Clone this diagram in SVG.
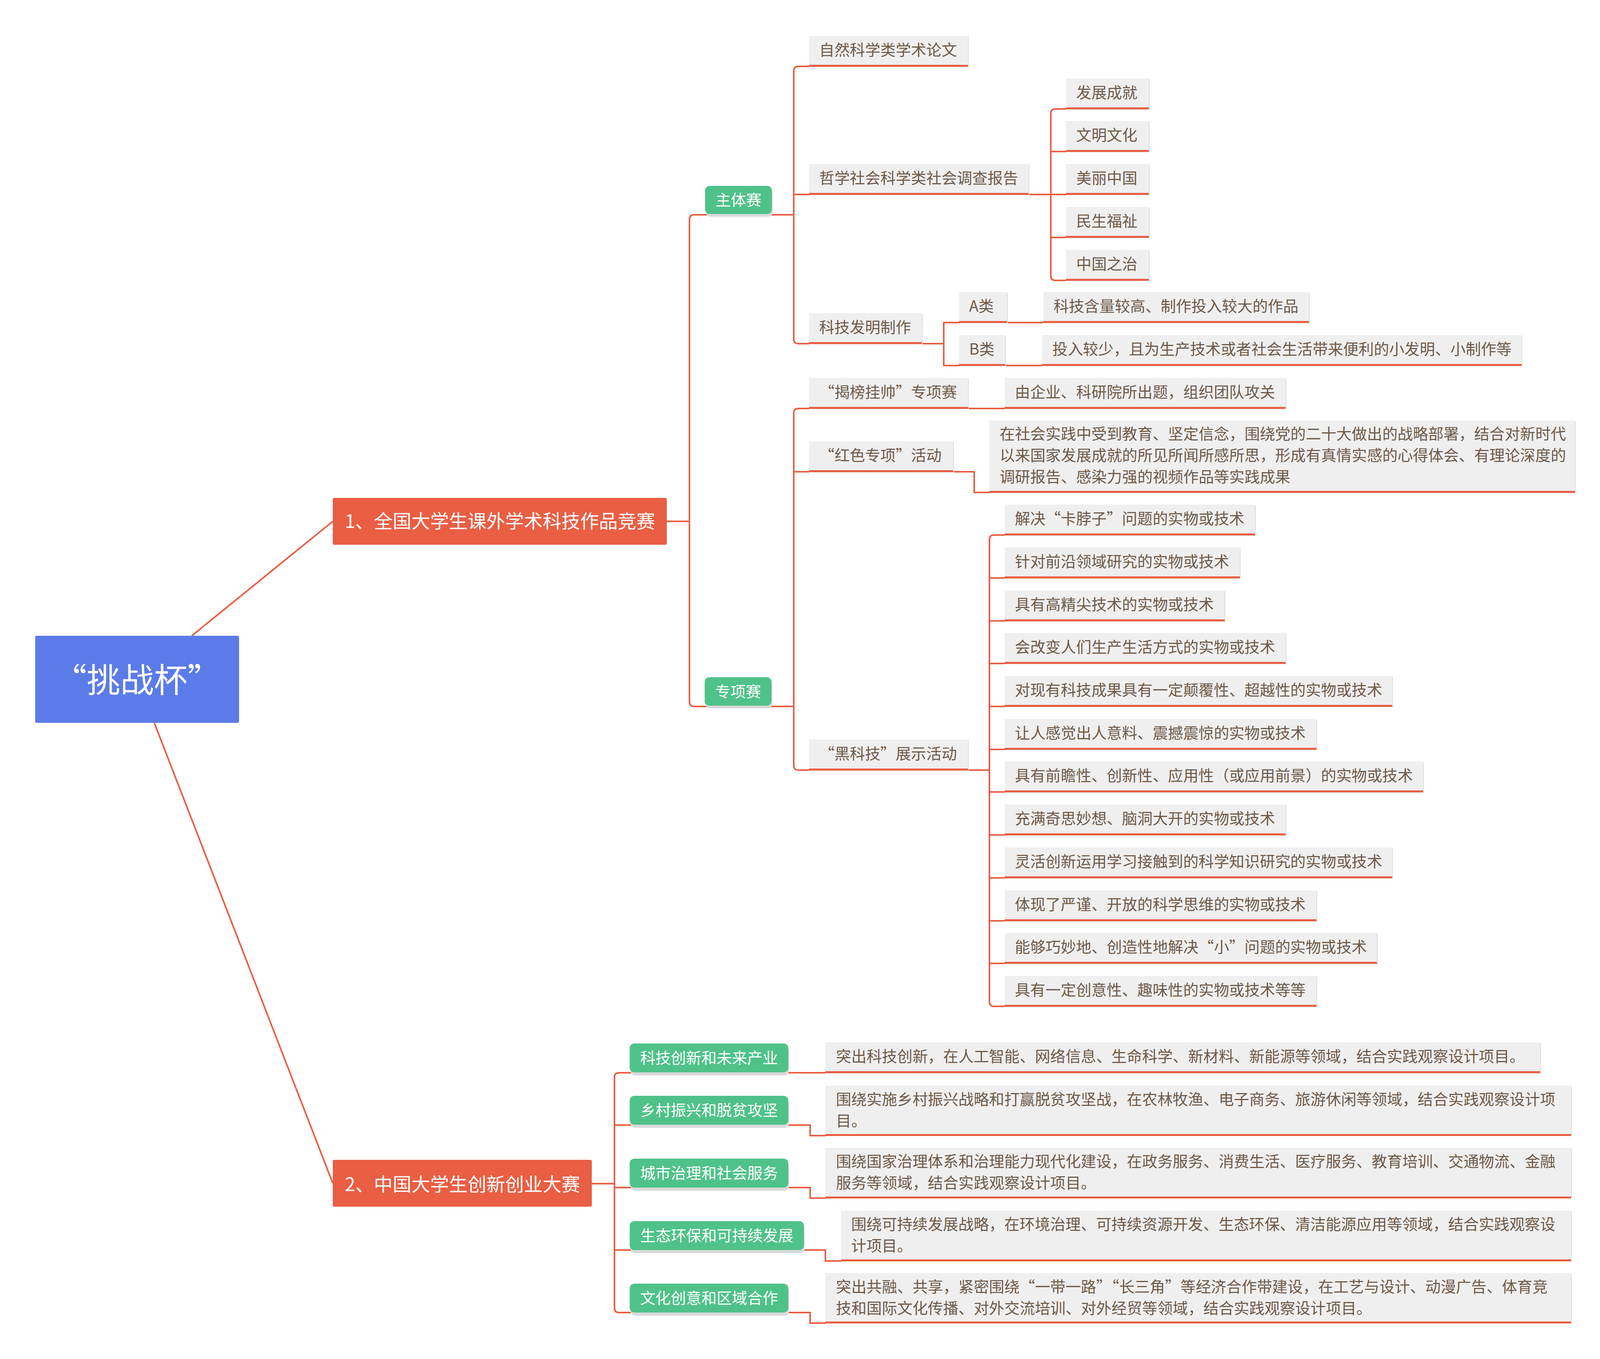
<svg xmlns="http://www.w3.org/2000/svg" width="4120" height="3480" viewBox="0 0 4120 3480">
<style>
.t{font-family:"Noto Sans CJK SC","Noto Sans CJK TC","Liberation Sans",sans-serif;}
.tx{font-size:39.2px;fill:#6e5a48;}
.gt{font-size:39.2px;fill:#ffffff;text-anchor:middle;}
.bx{fill:#efefef;}
.sh{fill:#dddddd;}
.ul{fill:#e95d40;}
.c{fill:none;stroke:#e95d40;stroke-width:4;}
.g{fill:#4fc289;}
.gs{fill:#dadada;}
.red{fill:#ea5e43;}
</style>
<rect x="0" y="0" width="4120" height="3480" fill="#ffffff"/>
<g id="connectors">
<path class="c" d="M 491 1628 L 852 1335"/>
<path class="c" d="M 395 1851 L 852 3030"/>
<path class="c" d="M 1707 1335 H 1765"/>
<path class="c" d="M 2032 550 H 1777 Q 1765 550 1765 562 V 1797 Q 1765 1809 1777 1809 H 2032"/>
<path class="c" d="M 2071 170 H 2044 Q 2032 170 2032 182 V 868 Q 2032 880 2044 880 H 2071"/>
<path class="c" d="M 2032 498 H 2729"/>
<path class="c" d="M 2729 279 H 2702 Q 2690 279 2690 291 V 706 Q 2690 718 2702 718 H 2729"/>
<path class="c" d="M 2690 388 H 2729 M 2690 608 H 2729"/>
<path class="c" d="M 2360 880 H 2416"/>
<path class="c" d="M 2671 826 H 2416 V 936 H 2668"/>
<path class="c" d="M 2071 1046 H 2044 Q 2032 1046 2032 1058 V 1960 Q 2032 1972 2044 1972 H 2071"/>
<path class="c" d="M 2032 1208 H 2071"/>
<path class="c" d="M 2478 1046 H 2572"/>
<path class="c" d="M 2440 1208 H 2494 V 1261 H 2533"/>
<path class="c" d="M 2478 1972 H 2533"/>
<path class="c" d="M 2572 1370 H 2545 Q 2533 1370 2533 1382 V 2565 Q 2533 2577 2545 2577 H 2572"/>
<path class="c" d="M 2533 1480 H 2572 M 2533 1590 H 2572 M 2533 1699 H 2572 M 2533 1809 H 2572 M 2533 1919 H 2572 M 2533 2028 H 2572 M 2533 2138 H 2572 M 2533 2248 H 2572 M 2533 2358 H 2572 M 2533 2467 H 2572"/>
<path class="c" d="M 1515 3031 H 1573"/>
<path class="c" d="M 2113 2747 H 1585 Q 1573 2747 1573 2759 V 3349 Q 1573 3361 1585 3361 H 2074 V 3388 H 2113"/>
<path class="c" d="M 1573 2881 H 2074 V 2908 H 2113"/>
<path class="c" d="M 1573 3041 H 2074 V 3068 H 2113"/>
<path class="c" d="M 1573 3201 H 2113 V 3229 H 2153"/>
</g>

<g id="root">
<rect x="90" y="1628" width="522" height="223" rx="4" fill="#5b7be8"/>
<text class="t" x="351" y="1773" font-size="86" fill="#ffffff" text-anchor="middle">“挑战杯”</text>
</g>

<g id="n1">
<rect class="red" x="852" y="1275" width="855" height="120" rx="4"/>
<text class="t" x="1280" y="1352" font-size="48" fill="#ffffff" text-anchor="middle">1、全国大学生课外学术科技作品竞赛</text>
</g>
<g id="n2">
<rect class="red" x="852" y="2970" width="663" height="120" rx="4"/>
<text class="t" x="1184" y="3050" font-size="48" fill="#ffffff" text-anchor="middle">2、中国大学生创新创业大赛</text>
</g>

<g id="zhuti">
<rect class="gs" x="1807" y="483" width="171" height="72" rx="12"/>
<rect class="g" x="1805" y="476" width="171" height="72" rx="12"/>
<text class="t gt" x="1890.5" y="526">主体赛</text>
</g>
<g id="zhuanxiang">
<rect class="gs" x="1806" y="1741" width="171" height="73" rx="12"/>
<rect class="g" x="1804" y="1734" width="171" height="73" rx="12"/>
<text class="t gt" x="1889.5" y="1785">专项赛</text>
</g>

<g id="ziran">
<rect class="sh" x="2073" y="94" width="407" height="78"/>
<rect class="bx" x="2071" y="92" width="407" height="78"/>
<rect class="ul" x="2071" y="166" width="407" height="5"/>
<text class="t tx" x="2097" y="142">自然科学类学术论文</text>
</g>
<g id="zhexue">
<rect class="sh" x="2073" y="422" width="562" height="78"/>
<rect class="bx" x="2071" y="420" width="562" height="78"/>
<rect class="ul" x="2071" y="494" width="562" height="5"/>
<text class="t tx" x="2097" y="470">哲学社会科学类社会调查报告</text>
</g>
<g id="fazhan">
<rect class="sh" x="2731" y="203" width="212" height="78"/>
<rect class="bx" x="2729" y="201" width="212" height="78"/>
<rect class="ul" x="2729" y="275" width="212" height="5"/>
<text class="t tx" x="2755" y="251">发展成就</text>
</g>
<g id="wenming">
<rect class="sh" x="2731" y="312" width="212" height="78"/>
<rect class="bx" x="2729" y="310" width="212" height="78"/>
<rect class="ul" x="2729" y="384" width="212" height="5"/>
<text class="t tx" x="2755" y="360">文明文化</text>
</g>
<g id="meili">
<rect class="sh" x="2731" y="422" width="212" height="78"/>
<rect class="bx" x="2729" y="420" width="212" height="78"/>
<rect class="ul" x="2729" y="494" width="212" height="5"/>
<text class="t tx" x="2755" y="470">美丽中国</text>
</g>
<g id="minsheng">
<rect class="sh" x="2731" y="532" width="212" height="78"/>
<rect class="bx" x="2729" y="530" width="212" height="78"/>
<rect class="ul" x="2729" y="604" width="212" height="5"/>
<text class="t tx" x="2755" y="580">民生福祉</text>
</g>
<g id="zhongguo">
<rect class="sh" x="2731" y="642" width="212" height="78"/>
<rect class="bx" x="2729" y="640" width="212" height="78"/>
<rect class="ul" x="2729" y="714" width="212" height="5"/>
<text class="t tx" x="2755" y="690">中国之治</text>
</g>
<g id="faming">
<rect class="sh" x="2073" y="804" width="289" height="78"/>
<rect class="bx" x="2071" y="802" width="289" height="78"/>
<rect class="ul" x="2071" y="876" width="289" height="5"/>
<text class="t tx" x="2097" y="852">科技发明制作</text>
</g>
<g id="alei">
<rect class="sh" x="2457" y="750" width="123" height="78"/>
<rect class="bx" x="2455" y="748" width="123" height="78"/>
<rect class="ul" x="2455" y="822" width="123" height="5"/>
<text class="t tx" x="2481" y="798">A类</text>
</g>
<g id="alei-d">
<rect class="sh" x="2673" y="750" width="680" height="78"/>
<rect class="bx" x="2671" y="748" width="680" height="78"/>
<rect class="ul" x="2671" y="822" width="680" height="5"/>
<text class="t tx" x="2697" y="798">科技含量较高、制作投入较大的作品</text>
</g>
<g id="blei">
<rect class="sh" x="2457" y="860" width="118" height="78"/>
<rect class="bx" x="2455" y="858" width="118" height="78"/>
<rect class="ul" x="2455" y="932" width="118" height="5"/>
<text class="t tx" x="2481" y="908">B类</text>
</g>
<g id="blei-d">
<rect class="sh" x="2670" y="860" width="1227" height="78"/>
<rect class="bx" x="2668" y="858" width="1227" height="78"/>
<rect class="ul" x="2668" y="932" width="1227" height="5"/>
<text class="t tx" x="2694" y="908">投入较少，且为生产技术或者社会生活带来便利的小发明、小制作等</text>
</g>

<g id="jiebang">
<rect class="sh" x="2073" y="970" width="407" height="78"/>
<rect class="bx" x="2071" y="968" width="407" height="78"/>
<rect class="ul" x="2071" y="1042" width="407" height="5"/>
<text class="t tx" x="2097" y="1018">“揭榜挂帅”专项赛</text>
</g>
<g id="jiebang-d">
<rect class="sh" x="2574" y="970" width="719" height="78"/>
<rect class="bx" x="2572" y="968" width="719" height="78"/>
<rect class="ul" x="2572" y="1042" width="719" height="5"/>
<text class="t tx" x="2598" y="1018">由企业、科研院所出题，组织团队攻关</text>
</g>
<g id="hongse">
<rect class="sh" x="2073" y="1132" width="369" height="78"/>
<rect class="bx" x="2071" y="1130" width="369" height="78"/>
<rect class="ul" x="2071" y="1204" width="369" height="5"/>
<text class="t tx" x="2097" y="1180">“红色专项”活动</text>
</g>
<g id="hongse-d">
<rect class="sh" x="2535" y="1079" width="1499" height="184"/>
<rect class="bx" x="2533" y="1077" width="1499" height="184"/>
<rect class="ul" x="2533" y="1257" width="1499" height="5"/>
<text class="t tx" x="2559" y="1125">在社会实践中受到教育、坚定信念，围绕党的二十大做出的战略部署，结合对新时代</text>
<text class="t tx" x="2559" y="1180">以来国家发展成就的所见所闻所感所思，形成有真情实感的心得体会、有理论深度的</text>
<text class="t tx" x="2559" y="1235">调研报告、感染力强的视频作品等实践成果</text>
</g>
<g id="heikeji">
<rect class="sh" x="2073" y="1896" width="407" height="78"/>
<rect class="bx" x="2071" y="1894" width="407" height="78"/>
<rect class="ul" x="2071" y="1968" width="407" height="5"/>
<text class="t tx" x="2097" y="1944">“黑科技”展示活动</text>
</g>

<g id="h1">
<rect class="sh" x="2574" y="1294" width="641" height="78"/>
<rect class="bx" x="2572" y="1292" width="641" height="78"/>
<rect class="ul" x="2572" y="1366" width="641" height="5"/>
<text class="t tx" x="2598" y="1342">解决“卡脖子”问题的实物或技术</text>
</g>
<g id="h2">
<rect class="sh" x="2574" y="1404" width="602" height="78"/>
<rect class="bx" x="2572" y="1402" width="602" height="78"/>
<rect class="ul" x="2572" y="1476" width="602" height="5"/>
<text class="t tx" x="2598" y="1452">针对前沿领域研究的实物或技术</text>
</g>
<g id="h3">
<rect class="sh" x="2574" y="1514" width="563" height="78"/>
<rect class="bx" x="2572" y="1512" width="563" height="78"/>
<rect class="ul" x="2572" y="1586" width="563" height="5"/>
<text class="t tx" x="2598" y="1562">具有高精尖技术的实物或技术</text>
</g>
<g id="h4">
<rect class="sh" x="2574" y="1623" width="719" height="78"/>
<rect class="bx" x="2572" y="1621" width="719" height="78"/>
<rect class="ul" x="2572" y="1695" width="719" height="5"/>
<text class="t tx" x="2598" y="1671">会改变人们生产生活方式的实物或技术</text>
</g>
<g id="h5">
<rect class="sh" x="2574" y="1733" width="992" height="78"/>
<rect class="bx" x="2572" y="1731" width="992" height="78"/>
<rect class="ul" x="2572" y="1805" width="992" height="5"/>
<text class="t tx" x="2598" y="1781">对现有科技成果具有一定颠覆性、超越性的实物或技术</text>
</g>
<g id="h6">
<rect class="sh" x="2574" y="1843" width="798" height="78"/>
<rect class="bx" x="2572" y="1841" width="798" height="78"/>
<rect class="ul" x="2572" y="1915" width="798" height="5"/>
<text class="t tx" x="2598" y="1891">让人感觉出人意料、震撼震惊的实物或技术</text>
</g>
<g id="h7">
<rect class="sh" x="2574" y="1952" width="1071" height="78"/>
<rect class="bx" x="2572" y="1950" width="1071" height="78"/>
<rect class="ul" x="2572" y="2024" width="1071" height="5"/>
<text class="t tx" x="2598" y="2000">具有前瞻性、创新性、应用性（或应用前景）的实物或技术</text>
</g>
<g id="h8">
<rect class="sh" x="2574" y="2062" width="719" height="78"/>
<rect class="bx" x="2572" y="2060" width="719" height="78"/>
<rect class="ul" x="2572" y="2134" width="719" height="5"/>
<text class="t tx" x="2598" y="2110">充满奇思妙想、脑洞大开的实物或技术</text>
</g>
<g id="h9">
<rect class="sh" x="2574" y="2172" width="992" height="78"/>
<rect class="bx" x="2572" y="2170" width="992" height="78"/>
<rect class="ul" x="2572" y="2244" width="992" height="5"/>
<text class="t tx" x="2598" y="2220">灵活创新运用学习接触到的科学知识研究的实物或技术</text>
</g>
<g id="h10">
<rect class="sh" x="2574" y="2282" width="798" height="78"/>
<rect class="bx" x="2572" y="2280" width="798" height="78"/>
<rect class="ul" x="2572" y="2354" width="798" height="5"/>
<text class="t tx" x="2598" y="2330">体现了严谨、开放的科学思维的实物或技术</text>
</g>
<g id="h11">
<rect class="sh" x="2574" y="2391" width="953" height="78"/>
<rect class="bx" x="2572" y="2389" width="953" height="78"/>
<rect class="ul" x="2572" y="2463" width="953" height="5"/>
<text class="t tx" x="2598" y="2439">能够巧妙地、创造性地解决“小”问题的实物或技术</text>
</g>
<g id="h12">
<rect class="sh" x="2574" y="2501" width="798" height="78"/>
<rect class="bx" x="2572" y="2499" width="798" height="78"/>
<rect class="ul" x="2572" y="2573" width="798" height="5"/>
<text class="t tx" x="2598" y="2549">具有一定创意性、趣味性的实物或技术等等</text>
</g>

<g id="g1">
<rect class="gs" x="1614" y="2680" width="406" height="74" rx="12"/>
<rect class="g" x="1612" y="2672" width="406" height="74" rx="12"/>
<text class="t gt" x="1815" y="2723">科技创新和未来产业</text>
</g>
<g id="g2">
<rect class="gs" x="1614" y="2814" width="406" height="74" rx="12"/>
<rect class="g" x="1612" y="2806" width="406" height="74" rx="12"/>
<text class="t gt" x="1815" y="2857">乡村振兴和脱贫攻坚</text>
</g>
<g id="g3">
<rect class="gs" x="1614" y="2975" width="406" height="74" rx="12"/>
<rect class="g" x="1612" y="2967" width="406" height="74" rx="12"/>
<text class="t gt" x="1815" y="3018">城市治理和社会服务</text>
</g>
<g id="g4">
<rect class="gs" x="1614" y="3135" width="446" height="74" rx="12"/>
<rect class="g" x="1612" y="3127" width="446" height="74" rx="12"/>
<text class="t gt" x="1835" y="3178">生态环保和可持续发展</text>
</g>
<g id="g5">
<rect class="gs" x="1614" y="3295" width="406" height="74" rx="12"/>
<rect class="g" x="1612" y="3287" width="406" height="74" rx="12"/>
<text class="t gt" x="1815" y="3338">文化创意和区域合作</text>
</g>

<g id="d1">
<rect class="sh" x="2115" y="2671" width="1830" height="78"/>
<rect class="bx" x="2113" y="2669" width="1830" height="78"/>
<rect class="ul" x="2113" y="2743" width="1830" height="5"/>
<text class="t tx" x="2140" y="2719">突出科技创新，在人工智能、网络信息、生命科学、新材料、新能源等领域，结合实践观察设计项目。</text>
</g>
<g id="d2">
<rect class="sh" x="2115" y="2782" width="1909" height="126"/>
<rect class="bx" x="2113" y="2780" width="1909" height="126"/>
<rect class="ul" x="2113" y="2904" width="1909" height="5"/>
<text class="t tx" x="2140" y="2829">围绕实施乡村振兴战略和打赢脱贫攻坚战，在农林牧渔、电子商务、旅游休闲等领域，结合实践观察设计项</text>
<text class="t tx" x="2140" y="2884">目。</text>
</g>
<g id="d3">
<rect class="sh" x="2115" y="2941" width="1909" height="127"/>
<rect class="bx" x="2113" y="2939" width="1909" height="127"/>
<rect class="ul" x="2113" y="3064" width="1909" height="5"/>
<text class="t tx" x="2140" y="2988">围绕国家治理体系和治理能力现代化建设，在政务服务、消费生活、医疗服务、教育培训、交通物流、金融</text>
<text class="t tx" x="2140" y="3043">服务等领域，结合实践观察设计项目。</text>
</g>
<g id="d4">
<rect class="sh" x="2155" y="3102" width="1869" height="127"/>
<rect class="bx" x="2153" y="3100" width="1869" height="127"/>
<rect class="ul" x="2153" y="3225" width="1869" height="5"/>
<text class="t tx" x="2179" y="3149">围绕可持续发展战略，在环境治理、可持续资源开发、生态环保、清洁能源应用等领域，结合实践观察设</text>
<text class="t tx" x="2179" y="3204">计项目。</text>
</g>
<g id="d5">
<rect class="sh" x="2115" y="3262" width="1909" height="126"/>
<rect class="bx" x="2113" y="3260" width="1909" height="126"/>
<rect class="ul" x="2113" y="3384" width="1909" height="5"/>
<text class="t tx" x="2140" y="3309">突出共融、共享，紧密围绕“一带一路”“长三角”等经济合作带建设，在工艺与设计、动漫广告、体育竞</text>
<text class="t tx" x="2140" y="3364">技和国际文化传播、对外交流培训、对外经贸等领域，结合实践观察设计项目。</text>
</g>
</svg>
